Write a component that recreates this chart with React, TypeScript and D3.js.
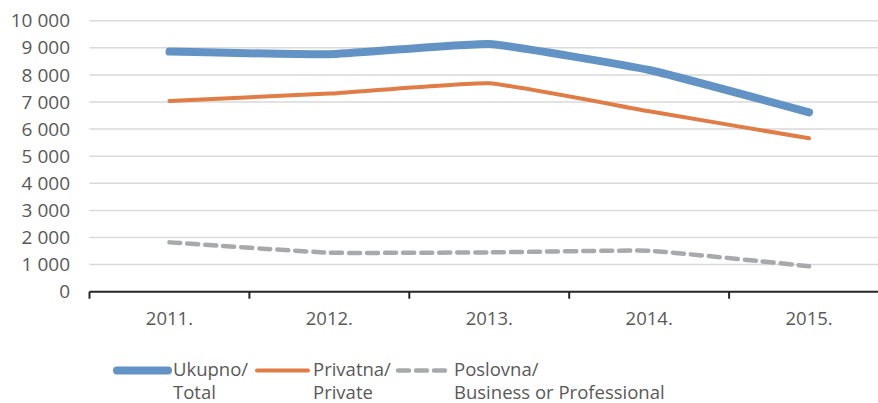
import React, { useEffect, useRef } from 'react'
import * as d3 from 'd3'

const YEARS = ['2011.', '2012.', '2013.', '2014.', '2015.']
const TOTAL = [8860, 8760, 9140, 8180, 6620]
const PRIVATE = [7040, 7310, 7690, 6660, 5660]
const BUSINESS = [1820, 1440, 1450, 1510, 940]
const Y_TICKS = [0, 1000, 2000, 3000, 4000, 5000, 6000, 7000, 8000, 9000, 10000]

const SERIES = [
  { key: 'total', values: TOTAL, color: '#6393c4', width: 8, dash: null, label: ['Ukupno/', 'Total'] },
  { key: 'private', values: PRIVATE, color: '#e07c46', width: 4, dash: null, label: ['Privatna/', 'Private'] },
  { key: 'business', values: BUSINESS, color: '#a7a9ac', width: 4.5, dash: '11 7', label: ['Poslovna/', 'Business or Professional'] },
]

const FONT = '"Open Sans", Lato, sans-serif'
const W = 878
const H = 403

export default function App() {
  const svgRef = useRef<SVGSVGElement>(null)

  useEffect(() => {
    if (!svgRef.current) return
    const svg = d3.select(svgRef.current)
    svg.selectAll('*').remove()

    const left = 89.5
    const right = 889
    const top = 20.7
    const bottom = 291.7

    const x = d3.scaleBand().domain(YEARS).range([left, right])
    const y = d3.scaleLinear().domain([0, 10000]).range([bottom, top])

    // gridlines
    svg.append('g')
      .selectAll('line')
      .data(Y_TICKS.filter(d => d > 0))
      .join('line')
      .attr('x1', left).attr('x2', right)
      .attr('y1', d => y(d)).attr('y2', d => y(d))
      .attr('stroke', '#d9d9d9').attr('stroke-width', 1.5)

    // y labels
    svg.append('g')
      .selectAll('text')
      .data(Y_TICKS)
      .join('text')
      .attr('x', 70).attr('y', d => y(d))
      .attr('dy', '0.35em')
      .attr('text-anchor', 'end')
      .attr('fill', '#595959')
      .attr('font-family', FONT).attr('font-size', 19)
      .text(d => d3.format(',')(d).replace(/,/g, ' '))

    // x axis
    const ax = svg.append('g').attr('transform', `translate(0,${bottom})`)
      .call(d3.axisBottom(x).tickSize(0).tickPadding(20))
    ax.select('.domain').remove()
    ax.selectAll('text')
      .attr('fill', '#595959').attr('font-family', FONT).attr('font-size', 18.5)
    svg.append('line')
      .attr('x1', left).attr('x2', right).attr('y1', bottom).attr('y2', bottom)
      .attr('stroke', '#262626').attr('stroke-width', 2)
    const bounds = YEARS.map(d => x(d)!).concat([right])
    svg.append('g')
      .selectAll('line')
      .data(bounds)
      .join('line')
      .attr('x1', d => d).attr('x2', d => d)
      .attr('y1', bottom).attr('y2', bottom + 7)
      .attr('stroke', '#262626').attr('stroke-width', 2)

    // lines (Excel-like mild smoothing)
    const line = d3.line<number>()
      .x((_, i) => x(YEARS[i])! + x.bandwidth() / 2)
      .y(d => y(d))
      .curve(d3.curveCardinal.tension(0.65))

    SERIES.slice().reverse().forEach(s => {
      svg.append('path')
        .attr('d', line(s.values))
        .attr('fill', 'none')
        .attr('stroke', s.color)
        .attr('stroke-width', s.width)
        .attr('stroke-linecap', 'round')
        .attr('stroke-linejoin', 'round')
        .attr('stroke-dasharray', s.dash)
    })

    // legend
    const legendX = [117, 257, 398]
    SERIES.forEach((s, i) => {
      const lx = legendX[i]
      svg.append('line')
        .attr('x1', lx).attr('x2', lx + 51)
        .attr('y1', 370.5).attr('y2', 370.5)
        .attr('stroke', s.color).attr('stroke-width', s.width)
        .attr('stroke-linecap', 'round')
        .attr('stroke-dasharray', s.dash)
      s.label.forEach((ln, j) => {
        svg.append('text')
          .attr('x', lx + 56).attr('y', 376 + j * 22.5)
          .attr('fill', '#595959').attr('font-family', FONT).attr('font-size', 18.5)
          .text(ln)
      })
    })
  }, [])

  return (
    <div style={{ position: 'fixed', left: 0, top: 0, width: W, height: H, background: '#fff', overflow: 'hidden' }}>
      <svg ref={svgRef} width={W} height={H} style={{ display: 'block' }} />
    </div>
  )
}
